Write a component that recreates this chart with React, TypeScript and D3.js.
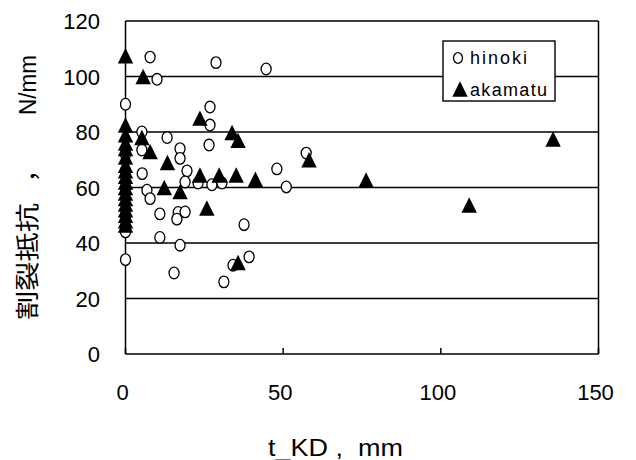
import React from "react";
import * as d3 from "d3";

const hinokiX = [7.8, 10, 28.7, 44.6, 0, 26.8, 26.8, 5.2, 13.2, 26.5, 17.3, 17.3, 5.2, 0, 5.3, 19.5, 6.8, 7.8, 10.9, 16.7, 18.9, 16.3, 0, 10.9, 17.3, 0, 15.4, 48, 57.3, 51, 18.9, 23, 27.4, 30.6, 37.6, 39.2, 34.1, 31.2, 0, 0, 0];
const hinokiY = [107, 99, 105, 102.7, 90, 89, 82.5, 80, 78, 75.3, 74, 70.5, 73.5, 72, 65, 66, 59, 56, 50.5, 51, 51.2, 48.6, 44, 42, 39.2, 34, 29.2, 66.7, 72.4, 60.2, 62, 61.6, 61, 61.6, 46.6, 35, 32, 26, 66, 60, 50];

const akamatuX = [0, 5.6, 23.6, 0, 0, 5.2, 33.8, 35.7, 7.8, 13.3, 23.6, 29.7, 35.1, 41.2, 12.3, 17.3, 25.8, 35.7, 58.2, 76.3, 109, 135.6, 0, 0, 0, 0, 0, 0, 0, 0, 0, 0, 0, 0, 0, 0, 0];
const akamatuY = [107.5, 100, 85, 82.5, 79, 78, 79.8, 77, 73, 69, 64.5, 64.5, 64.5, 63, 60, 58.5, 52.6, 33, 70, 62.7, 53.7, 77.5, 76, 74, 71, 68, 66, 64, 62, 60, 58, 56, 54, 52, 50, 48, 46.5];

const xTicks = [0, 50, 100, 150];
const yTicks = [0, 20, 40, 60, 80, 100, 120];
const seriesNames = ["hinoki", "akamatu"];
const xTitle = "t_KD ,  mm";
const yTitleMain = "割裂抵抗";
const yTitleComma = "，";
const yTitleUnit = "N/mm";

const W = 636;
const H = 460;
const x = d3.scaleLinear().domain([0, 150]).range([125.5, 598.5]);
const y = d3.scaleLinear().domain([0, 120]).range([354, 21]);

const tri = (cx: number, cy: number) => {
  const p = d3.path();
  p.moveTo(cx, cy - 7.7);
  p.lineTo(cx + 7.7, cy + 7.7);
  p.lineTo(cx - 7.7, cy + 7.7);
  p.closePath();
  return p.toString();
};

const font = "'Liberation Sans', Arial, sans-serif";

export default function App() {
  const hinoki = hinokiX.map((v, i) => [v, hinokiY[i]]);
  const akamatu = akamatuX.map((v, i) => [v, akamatuY[i]]);
  const [x0, x1] = x.range();
  const [y0, y1] = y.range();
  return (
    <svg width={W} height={H} style={{ position: "absolute", left: 0, top: 0, background: "#fff" }}>
      <rect x={0} y={0} width={W} height={H} fill="#fff" />
      {yTicks.filter((t) => t > 0).map((t) => (
        <line key={"g" + t} x1={x0} x2={x1} y1={y(t)} y2={y(t)} stroke="#000" strokeWidth={1.5} />
      ))}
      <line x1={x0} x2={x0} y1={y1} y2={y0} stroke="#000" strokeWidth={1.5} />
      <line x1={x1} x2={x1} y1={y1} y2={y0} stroke="#000" strokeWidth={1.5} />
      <line x1={x0} x2={x1} y1={y0} y2={y0} stroke="#000" strokeWidth={1.5} />
      {xTicks.map((t) => (
        <line key={"xt" + t} x1={x(t)} x2={x(t)} y1={y0} y2={y0 - 6} stroke="#000" strokeWidth={1.5} />
      ))}
      {yTicks.map((t) => (
        <text key={"yl" + t} x={100} y={y(t) + 8} textAnchor="end" fontFamily={font} fontSize={22} fill="#000">
          {t}
        </text>
      ))}
      {xTicks.map((t) => (
        <text key={"xl" + t} x={x(t) - 3} y={400} textAnchor="middle" fontFamily={font} fontSize={22} fill="#000">
          {t}
        </text>
      ))}
      <text x={268} y={456} fontFamily={font} fontSize={23} fill="#000" textLength={135} lengthAdjust="spacingAndGlyphs" style={{ whiteSpace: "pre" }}>
        {xTitle}
      </text>
      <g transform="translate(36,320) rotate(-90)">
        <text x={0} y={0} fontFamily="'Noto Sans CJK JP', sans-serif" fontSize={24} fill="#000" textLength={117} lengthAdjust="spacingAndGlyphs">
          {yTitleMain}
        </text>
        <text x={138} y={0} fontFamily="'Noto Sans CJK JP', sans-serif" fontSize={24} fill="#000">
          {yTitleComma}
        </text>
        <text x={205} y={0} fontFamily={font} fontSize={23} fill="#000" textLength={60} lengthAdjust="spacingAndGlyphs">
          {yTitleUnit}
        </text>
      </g>
      {hinoki.map(([a, b], i) => (
        <ellipse key={"h" + i} cx={x(a)} cy={y(b)} rx={5} ry={5.8} fill="#fff" stroke="#000" strokeWidth={1.3} />
      ))}
      {akamatu.map(([a, b], i) => (
        <path key={"a" + i} d={tri(x(a), y(b))} fill="#000" />
      ))}
      <rect x={443} y={41} width={112} height={60} fill="#fff" stroke="#000" strokeWidth={1.4} />
      <ellipse cx={458} cy={58} rx={4.5} ry={5.3} fill="#fff" stroke="#000" strokeWidth={1.3} />
      <text x={470} y={64} fontFamily={font} fontSize={18} fill="#000" textLength={57} lengthAdjust="spacing">
        {seriesNames[0]}
      </text>
      <path d={tri(460, 89)} fill="#000" />
      <text x={470} y={96} fontFamily={font} fontSize={18} fill="#000" textLength={77} lengthAdjust="spacing">
        {seriesNames[1]}
      </text>
    </svg>
  );
}
